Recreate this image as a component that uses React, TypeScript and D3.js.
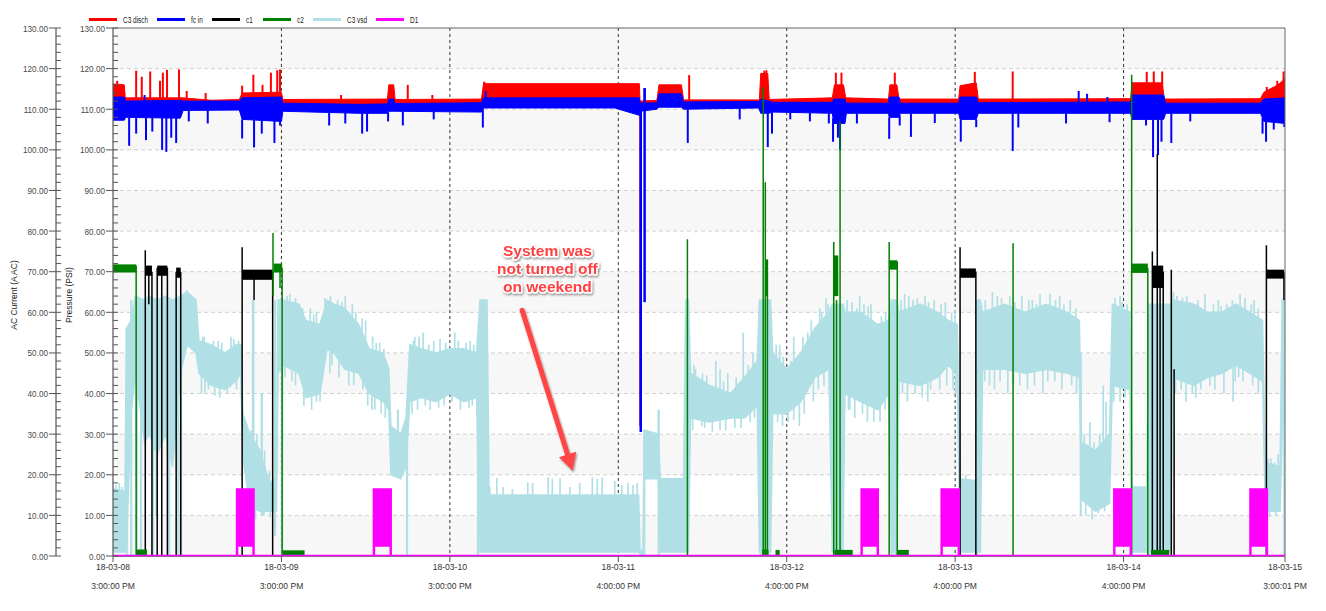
import React from 'react';
import * as d3 from 'd3';

// ---------------- data ----------------
const xTickHours = [0, 24, 48, 72, 96, 120, 144, 167];
const xTickDates = ['18-03-08', '18-03-09', '18-03-10', '18-03-11', '18-03-12', '18-03-13', '18-03-14', '18-03-15'];
const xTickTimes = ['3:00:00 PM', '3:00:00 PM', '3:00:00 PM', '4:00:00 PM', '4:00:00 PM', '4:00:00 PM', '4:00:00 PM', '3:00:01 PM'];
const yMajorTicks = [0, 10, 20, 30, 40, 50, 60, 70, 80, 90, 100, 110, 120, 130];
const legendNames = ['C3 disch', 'fc in', 'c1', 'c2', 'C3 vsd', 'D1'];
const legendColors = ['#ff0000', '#0000ff', '#000000', '#008000', '#b0e0e6', '#ff00ff'];

// C3 disch (red): [hour, low, high]
const dischBand = [
  [0, 111, 116.2], [1.6, 111, 116], [1.75, 111, 112.8], [10, 111, 112.8], [14, 111, 112.2], [18, 111, 112.4],
  [18.4, 111, 114], [24, 111, 114.2], [24.2, 111, 112.4], [39.1, 111, 112.5], [39.3, 111, 116], [40, 111, 116],
  [40.2, 111, 112.4], [52.5, 111, 112.5], [52.8, 111, 116.3], [75, 111, 116.3], [75.1, 111, 112], [77.5, 111, 112.2],
  [77.8, 111, 116], [81, 111, 116], [81.3, 111, 112.3], [92.1, 111, 112.3], [92.3, 111, 118.8], [93.3, 111, 118.8],
  [93.5, 111, 112.4], [102.5, 111, 112.8], [102.8, 111, 116], [104.1, 111, 116], [104.4, 111, 112.8], [110.5, 111, 112.5],
  [110.7, 111, 116], [111.7, 111, 116], [112, 111, 112.5], [120.5, 111, 112.5], [120.7, 111, 115.8], [123, 111, 116.5],
  [123.3, 111, 112.5], [145, 111, 112.6], [145.2, 111, 116.5], [149.5, 111, 116.5], [149.8, 111, 112.5],
  [163.5, 111, 112.6], [164, 111, 114.2], [166, 111, 116], [167, 111, 117.5],
];
const dischSpikes = [
  [0.6, 117], [3.3, 119.5], [4.1, 118], [5.3, 119.3], [6.7, 117], [7.1, 119], [7.7, 119.7], [9.4, 119.8], [10.5, 114.5],
  [13.2, 114], [18.4, 115.8], [20, 118.5], [21.3, 116], [22.5, 119], [23.4, 119.6], [23.8, 119.8], [32.5, 113.5],
  [42, 116], [45.5, 113.5], [52.9, 116.8], [82.1, 118.4], [92.8, 119.5], [93.1, 119.6], [103, 119], [103.8, 119],
  [111.4, 119], [122.8, 119.2], [128.2, 119.3], [147.3, 119.2], [148.3, 119.3], [149.5, 119.3], [164.4, 115.5],
  [165.9, 117], [166.8, 119.3],
];
const dischDrops = [[75.1, 112, 32]];

// fc in (blue): [hour, low, high]
const fcBand = [
  [0, 107.3, 113], [1.6, 107.3, 113], [1.8, 108, 112], [9.6, 107.8, 112.2], [10, 109.7, 112], [18, 109.8, 112],
  [18.4, 107.5, 112.8], [24, 107, 113], [24.2, 109.5, 111.5], [35, 109, 111.2], [39.1, 109, 111.3], [39.3, 109.5, 112.5],
  [40, 109.5, 112.5], [40.2, 109.5, 111.4], [52.5, 109.3, 111.6], [52.8, 110.3, 112.8], [71.5, 110.3, 112.8],
  [75, 108.5, 112.8], [75.1, 109.5, 111.5], [77.5, 110, 111.6], [77.8, 110.5, 113.8], [81, 110.5, 113.8],
  [81.3, 110, 111.8], [92, 110.3, 111.9], [92.3, 109, 112.5], [93.5, 109, 112], [94, 109.3, 111.7], [102.5, 109, 111.7],
  [102.7, 106.5, 112.5], [104.3, 106.5, 112.5], [104.5, 109, 111.5], [110.5, 109, 111.5], [110.6, 108, 113],
  [112, 108, 113], [112.2, 109, 111.5], [120.5, 109, 111.5], [120.7, 107.5, 113], [123, 107.5, 113], [123.3, 109, 111.6],
  [145, 109, 111.8], [145.2, 107.5, 113.5], [149.7, 107.5, 113.5], [150, 109, 111.5], [163.5, 109, 111.5],
  [164, 107, 112.5], [167, 106.5, 112.8],
];
const fcDips = [
  [2.3, 101], [3.3, 104], [4.7, 102.4], [5.6, 104.5], [7.0, 100], [7.6, 99.5], [8.3, 103], [9.0, 101.7], [10.8, 107],
  [13.5, 106.5], [18.4, 102.8], [20.1, 100.6], [21.2, 104], [23.0, 101.7], [23.8, 106], [30.8, 106], [33.1, 106.5],
  [35.5, 104], [36.2, 104.5], [39.2, 107], [41.3, 106], [45.7, 107.5], [52.7, 105.5], [81.9, 101.7], [89.3, 107.5],
  [93.3, 100.7], [93.9, 104], [96.5, 107.5], [99.3, 107], [102, 106.5], [102.6, 102], [103.3, 103], [103.6, 100],
  [106, 106.5], [110.6, 102.7], [112.1, 106], [113.7, 103.2], [117.1, 106.6], [120.8, 102], [123, 105.6], [128.2, 99.7],
  [129, 105.5], [135.8, 106.5], [142, 106.8], [147.2, 106], [148.2, 98.2], [148.9, 98.7], [149.4, 102], [150.8, 101.7],
  [153.5, 107], [163.8, 104], [164.3, 102], [165.4, 105], [166.9, 105.6],
];
const fcPeaks = [[4.5, 113.5], [53.1, 114.5], [75.75, 115.2], [137.6, 114.5], [138.8, 113.8], [141.7, 113]];
const fcDrops = [[75.2, 111.5, 30.5], [75.75, 115.2, 62.5]];

// c1 (black): plateaus [start, end, low, high], lines [hour, from, to]
const c1Plateaus = [
  [4.6, 5.55, 69, 71.5], [6.3, 7.75, 69, 71.5], [9.0, 9.65, 68.5, 71], [18.4, 22.75, 68, 70.5],
  [120.7, 122.95, 68.5, 70.8], [148.1, 149.65, 66, 71.5], [164.35, 166.85, 68.3, 70.5],
];
const c1Lines = [
  [4.6, 0, 75.3], [5.1, 62, 71], [5.55, 0, 70], [6.3, 0, 71], [6.95, 0, 71], [7.75, 0, 71], [9.0, 0, 70], [9.65, 0, 70],
  [18.4, 0, 76], [20.1, 63, 70], [22.75, 0, 70], [120.7, 0, 76], [122.95, 0, 70], [148.1, 0, 75], [148.8, 0, 99],
  [149.2, 0, 71], [149.65, 0, 70], [150.8, 0, 70.5], [151.2, 0, 46], [164.35, 0, 76.5], [166.85, 63, 70], [167, 63, 69],
];

// c2 (green)
const c2Plateaus = [
  [0, 3.3, 69.8, 71.8], [22.9, 24.1, 69.8, 72], [92.95, 93.25, 64, 73], [102.7, 103.35, 64, 74],
  [110.6, 111.75, 70.5, 72.8], [145.2, 147.45, 69.7, 72],
  [3.3, 4.85, 0, 1.6], [24.2, 27.3, 0, 1.4], [92.5, 93.4, 0, 1.6], [94.4, 95.0, 0, 1.5], [102.8, 105.4, 0, 1.5],
  [111.7, 113.4, 0, 1.5], [147.9, 150.5, 0, 1.5],
];
const c2Lines = [
  [3.3, 0, 71.5], [22.8, 64, 79.5], [23.8, 66, 71], [24.1, 0, 71], [81.85, 0, 78], [92.65, 0, 115.5], [92.95, 0, 92],
  [93.25, 0, 73], [102.7, 0, 77.3], [103.1, 0, 63], [103.6, 0, 107], [110.6, 0, 77.3], [111.75, 0, 72.5],
  [128.25, 0, 77], [145.15, 0, 118.5], [147.45, 0, 71],
];

// C3 vsd (light blue): [hour, low, high]
const vsdBand = [
  [0, 1, 16.5], [1.7, 1, 16], [1.92, 1, 56], [2.56, 35, 58], [3.2, 45, 64], [4.49, 28, 63], [5.2, 30, 64], [6.27, 25, 63],
  [7.48, 30, 64], [8.48, 22, 63], [9.62, 45, 64], [10.54, 52, 65], [11.83, 50, 63], [12.25, 45, 53], [13.96, 42, 52],
  [15.96, 41, 50], [17.53, 43, 52], [18.2, 45, 52], [18.52, 24, 35], [19.52, 12, 30], [20.95, 11, 26], [21.94, 11, 20],
  [22.6, 11, 18], [23.3, 11, 20], [23.5, 45, 63], [24.22, 47, 63], [26.5, 45, 62], [27.5, 39, 58], [29.5, 40, 57],
  [30.5, 51, 63], [31.5, 50, 62], [33, 46, 61], [35, 45, 57], [36.5, 40, 51], [38.5, 38, 50], [39.3, 36, 46],
  [39.6, 20, 32], [41, 19, 30], [41.75, 22, 34], [42.3, 38, 52], [44, 39, 51], [46, 38, 50], [48, 40, 51], [50, 38, 51],
  [51.8, 39, 50], [52.3, 1, 63], [53.3, 1, 63], [53.6, 1, 15], [74.9, 1, 15], [75.1, 0.5, 1.5], [75.5, 0.5, 1.5],
  [75.7, 19, 31], [77.7, 19, 30], [78, 1, 19], [81.3, 1, 19], [81.6, 1, 63], [82, 1, 63], [82.3, 34, 45], [85, 33, 42],
  [88, 34, 40], [90, 34, 44], [91.8, 37, 48], [92.1, 1, 63], [93.7, 1, 63], [94, 35, 50], [96, 35, 46], [98, 38, 50],
  [100, 44, 56], [102, 46, 60], [102.5, 1, 62], [104, 1, 62], [104.3, 40, 60], [106.5, 38, 60], [109, 36, 57],
  [110.5, 40, 58], [110.9, 1, 63], [111.7, 1, 63], [112, 43, 60], [115, 42, 62], [117.5, 44, 60], [119, 47, 58],
  [120.3, 45, 57], [120.7, 1, 19], [123, 1, 18.5], [123.2, 1, 63], [123.6, 1, 63], [123.9, 46, 60], [127, 46, 62],
  [130, 45, 60], [133, 46, 62], [136, 45, 60], [137.7, 44, 58], [138, 14, 28], [140, 11, 26], [142, 13, 30],
  [142.4, 42, 62], [144.9, 41, 60], [145.2, 1, 17], [147.3, 1, 17], [147.6, 1, 62], [150.7, 1, 62], [151, 44, 63],
  [154, 42, 62], [156, 44, 60], [158, 45, 60], [160, 47, 62], [162, 45, 60], [163.8, 43, 58], [164.2, 11, 23],
  [166.3, 11, 22], [166.6, 30, 63], [167, 40, 63],
];
const vsdPeaks = [
  [0.4, 17.5], [0.9, 18], [1.3, 17], [10.5, 65.5], [12.8, 54], [13, 54], [14.3, 53], [15, 53], [15.5, 52.5], [16.8, 54],
  [17.2, 53.5], [17.9, 53], [19, 33], [19.7, 31], [19.9, 63], [20.5, 30], [21.2, 40], [21.6, 26], [22.3, 21],
  [24.8, 64], [25.2, 64.5], [26, 63.5], [27, 61], [28.1, 61], [28.6, 59.5], [29, 60], [29.8, 58], [30.2, 63.5], [31, 64],
  [32, 63], [32.6, 62.5], [33.1, 64], [34.1, 62], [34.6, 60], [35.5, 58.5], [36, 58], [37, 54], [37.5, 52.5], [38, 52.5],
  [38.6, 51], [40.6, 36], [42.8, 53], [43, 54], [43.6, 54], [44.2, 55], [45, 52], [45.7, 53], [46.6, 53.5], [47.4, 52.5],
  [48.7, 55], [49.2, 53], [50.3, 52.5], [50.9, 53], [51.4, 52],
  [53.7, 17], [54.7, 19.2], [55.6, 17], [56.9, 16.5], [59.1, 18.2], [59.8, 18], [62, 19.4], [62.6, 19], [63.7, 19.2],
  [65.1, 17], [66.5, 18], [68.3, 19.4], [69, 19], [69.7, 19.4], [71.5, 18.5], [72.5, 17.5], [73.4, 18], [74.1, 17.5],
  [74.7, 18], [77.75, 36], [82.8, 47], [83, 46], [84, 45], [84.6, 44.5], [85.9, 48], [86.5, 46], [87, 43], [87.6, 45],
  [88.8, 44], [89.8, 55], [90.5, 47], [91.2, 50], [94.5, 52], [95, 52], [95.5, 49], [96.6, 48], [97, 54], [98.3, 54],
  [99, 55], [99.5, 58], [100.7, 61], [101, 60], [101.6, 63.5], [101.9, 62], [104.6, 63], [105.3, 62.5], [106, 61],
  [106.4, 64], [107, 62], [107.6, 61.5], [108, 62], [109.5, 59], [110.1, 60], [112.3, 63], [112.8, 64.5], [113.4, 64],
  [114, 63], [114.6, 63.5], [115.7, 64], [116.2, 62.5], [117, 63], [118, 62], [118.6, 62.5], [119.5, 60], [120, 60.5],
  [121.5, 20], [124.3, 63], [125.3, 65], [126, 64], [126.6, 63.5], [127.8, 64], [128.5, 62.5], [129.5, 64], [130.5, 63],
  [131, 63], [131.6, 62], [132.1, 64.5], [133.5, 64.5], [134.3, 63], [134.9, 64], [135.5, 62], [136.4, 63], [137.2, 61],
  [138.4, 30], [139.2, 33], [139.8, 28], [140.6, 30], [141.1, 42], [141.5, 38], [142.8, 63.5], [143.5, 64],
  [143.8, 62.5], [144.5, 62], [151.1, 65], [151.6, 64], [152.4, 63.5], [153, 64], [153.5, 62.5], [154.6, 63],
  [155.6, 64.5], [156.8, 62], [157.5, 63], [157.9, 61.5], [158.7, 62], [159.5, 63], [160.6, 64.5], [161.3, 63.5],
  [162.2, 62], [162.6, 63], [163.2, 61], [164.6, 24], [165, 24], [165.5, 23], [166, 25],
];
const vsdDips = [
  [12.6, 40], [13.1, 40], [13.6, 41], [14.5, 39.5], [15.2, 39], [16.3, 40], [16.7, 41.5], [17.6, 41], [19.2, 10],
  [20.3, 9], [21.5, 10], [22.4, 9.5], [24.5, 44], [25.5, 43], [26, 42], [27.2, 37], [28.3, 36], [29, 38], [29.5, 38],
  [30.9, 45], [31.2, 47], [32.2, 44], [33.6, 42], [34.3, 42], [35.6, 41], [36.3, 37], [36.9, 36], [37.3, 36],
  [38.2, 35], [38.8, 34], [42.6, 35], [43.4, 36], [44.5, 37], [45.2, 36], [46.4, 36.5], [47.2, 37], [48.3, 38],
  [49.5, 36], [50.7, 36.5], [51.2, 37], [82.6, 31], [83.9, 32], [84.3, 31.5], [85.4, 30.5], [86.5, 31], [87.3, 31],
  [88.6, 31.5], [89.5, 31.5], [90.8, 33], [91.4, 34], [94.7, 33], [95.4, 32], [96.2, 33], [97, 33.5], [97.8, 32],
  [98.5, 35], [99.8, 38], [100.5, 41], [101.3, 42], [104.8, 36], [105, 36], [105.7, 34], [106.8, 35], [107.5, 33],
  [108.4, 33], [109.3, 33], [110, 36], [112.5, 40], [113.2, 38], [114.3, 40], [115.3, 39], [116.1, 38], [116.5, 41],
  [117.8, 41], [118.8, 42], [119.7, 41], [120.1, 40], [124.2, 43], [124.9, 42], [125.6, 41], [126.4, 43], [127.5, 40],
  [128.3, 42], [129.2, 42], [130.3, 41], [131.3, 42], [132.5, 40], [133.2, 43], [134.2, 43], [135.2, 41], [136.6, 42],
  [137.3, 40], [138.6, 10], [139.5, 9], [140.4, 10.5], [141.3, 11], [142.6, 38], [143.5, 38], [144.2, 39], [151.4, 40],
  [152.2, 41], [152.9, 38], [153.8, 40], [154.3, 39], [155, 41], [156.3, 42], [157, 41], [158.3, 40], [159.6, 38],
  [159.9, 43], [160.4, 44], [161, 43], [162.4, 42], [163.2, 40], [164.8, 9.5], [165.7, 10],
];
const vsdLines = [
  [1.95, 0, 56], [2.6, 0, 63], [3.4, 0, 63], [4.0, 0, 40], [5.7, 0, 63], [6.2, 10, 60], [8.0, 0, 62], [9.3, 0, 63],
  [9.7, 0, 60], [20, 10, 63], [21.2, 10, 40], [23.1, 5, 63], [24.1, 0, 63], [40.6, 20, 36], [41.9, 0, 30], [52.0, 0, 50],
  [75.7, 0, 31], [77.75, 0, 36], [92.3, 0, 63], [93.5, 0, 63], [102.8, 0, 60], [103.9, 0, 62], [111, 0, 63],
  [111.5, 0, 60], [123.1, 0, 63], [137.9, 10, 50], [147.6, 0, 62], [149, 0, 60], [150.2, 0, 62], [164.4, 0, 23],
  [166.9, 0, 63],
];

// D1 (magenta): on periods [start, end]
const d1On = [[17.5, 20.2], [37.0, 39.75], [106.5, 109.15], [117.9, 120.7], [142.5, 145.2], [161.9, 164.6]];
const d1High = 16.7;
const d1Low = 2.3;

// ---------------- chart ----------------
const FONT = 'Liberation Sans, Arial, sans-serif';
const VSD = '#b0e0e6';

function interp(arr: number[][], h: number, idx: number) {
  for (let i = 0; i < arr.length - 1; i++) {
    const a = arr[i], b = arr[i + 1];
    if (h >= a[0] && h <= b[0]) {
      const t = b[0] === a[0] ? 0 : (h - a[0]) / (b[0] - a[0]);
      return a[idx] + t * (b[idx] - a[idx]);
    }
  }
  return arr[arr.length - 1][idx];
}

const T = ({ x, y, sx = 1, anchor = 'start', size = 9, fill = '#444', weight = 'normal', rot = 0, children }: any) => (
  <text
    transform={`translate(${x},${y}) rotate(${rot}) scale(${sx},1)`}
    textAnchor={anchor}
    fontSize={size}
    fontWeight={weight}
    fill={fill}
    fontFamily={FONT}
  >
    {children}
  </text>
);

export default function App() {
  const left = 113, right = 1285, top = 28, bottom = 556;
  const x = d3.scaleLinear().domain([0, 167]).range([left, right]);
  const y = d3.scaleLinear().domain([0, 130]).range([bottom, top]);
  const band = d3.area<number[]>().x((d) => x(d[0])).y0((d) => y(d[1])).y1((d) => y(d[2]));
  const minorTicks = d3.range(0, 131, 2).filter((v) => v % 10 !== 0);

  const vline = (h: number, a: number, b: number, color: string, w: number, key: string) => (
    <line key={key} x1={x(h)} x2={x(h)} y1={y(a)} y2={y(b)} stroke={color} strokeWidth={w} />
  );

  const axis = (ax: number, labelX: number, key: string) => (
    <g key={key}>
      <line x1={ax} x2={ax} y1={top} y2={bottom} stroke="#555" strokeWidth={1.2} />
      {yMajorTicks.map((v) => (
        <g key={v}>
          <line x1={ax - 7} x2={ax + 5} y1={y(v)} y2={y(v)} stroke="#555" />
          <T x={labelX} y={y(v) + 3.5} anchor="end" size={9.5} sx={0.86} fill="#4a4a4a">{v.toFixed(2)}</T>
        </g>
      ))}
      {minorTicks.map((v) => (
        <line key={'m' + v} x1={ax} x2={ax + 5} y1={y(v)} y2={y(v)} stroke="#555" />
      ))}
    </g>
  );

  const d1Path = (s: number, e: number) => {
    const w = 0.35;
    return `M${x(s)},${y(0)}L${x(s)},${y(d1High)}L${x(e)},${y(d1High)}L${x(e)},${y(0)}L${x(e - w)},${y(0)}L${x(e - w)},${y(d1Low)}L${x(s + w)},${y(d1Low)}L${x(s + w)},${y(0)}Z`;
  };

  // annotation anchor positions (in data units)
  const noteX = x(61.9);
  const arrowFrom = [x(58.3), y(60.5)];
  const arrowTo = [x(65.5), y(21)];
  const dx = arrowTo[0] - arrowFrom[0], dy = arrowTo[1] - arrowFrom[1];
  const len = Math.hypot(dx, dy);
  const ux = dx / len, uy = dy / len;
  const headL = 17, headW = 9;
  const bx = arrowTo[0] - ux * headL, by = arrowTo[1] - uy * headL;

  return (
    <svg width={1326} height={611} style={{ position: 'absolute', left: 0, top: 0, background: '#fff' }}>
      <defs>
        <filter id="shadow" x="-20%" y="-20%" width="140%" height="140%">
          <feDropShadow dx="1" dy="1.5" stdDeviation="1.2" floodColor="#000" floodOpacity="0.45" />
        </filter>
        <clipPath id="plot">
          <rect x={left} y={top} width={right - left} height={bottom - top} />
        </clipPath>
      </defs>

      {/* background stripes */}
      {yMajorTicks.slice(0, -1).filter((v) => v % 20 === 0).map((v) => (
        <rect key={v} x={left} y={y(v + 10)} width={right - left} height={y(v) - y(v + 10)} fill="#f7f7f7" />
      ))}
      {/* horizontal grid */}
      {yMajorTicks.slice(1, -1).map((v) => (
        <line key={v} x1={left} x2={right} y1={y(v)} y2={y(v)} stroke="#cfcfcf" strokeDasharray="4,3" />
      ))}
      {/* vertical grid */}
      {xTickHours.slice(1, -1).map((h) => (
        <line key={h} x1={x(h)} x2={x(h)} y1={top} y2={bottom} stroke="#333" strokeDasharray="3,3" />
      ))}

      <g clipPath="url(#plot)">
        {/* C3 vsd */}
        <path d={band(vsdBand as any) || ''} fill={VSD} stroke={VSD} strokeWidth={1.5} />
        {vsdLines.map((d, i) => vline(d[0], d[1], d[2], VSD, 2.2, 'vl' + i))}
        {vsdPeaks.map((d, i) => vline(d[0], interp(vsdBand, d[0], 2), d[1], VSD, 1.7, 'vp' + i))}
        {vsdDips.map((d, i) => vline(d[0], interp(vsdBand, d[0], 1), d[1], VSD, 1.7, 'vd' + i))}

        {/* C3 disch */}
        <path d={band(dischBand as any) || ''} fill="#ff0000" stroke="#ff0000" strokeWidth={1} />
        {dischSpikes.map((d, i) => vline(d[0], 111, d[1], '#ff0000', 2, 'rs' + i))}
        {dischDrops.map((d, i) => vline(d[0], d[1], d[2], '#ff0000', 1.5, 'rd' + i))}

        {/* fc in */}
        <path d={band(fcBand as any) || ''} fill="#0000ff" stroke="#0000ff" strokeWidth={1} />
        {fcDips.map((d, i) => vline(d[0], interp(fcBand, d[0], 1), d[1], '#0000ff', 2, 'bd' + i))}
        {fcPeaks.map((d, i) => vline(d[0], interp(fcBand, d[0], 2), d[1], '#0000ff', 2, 'bp' + i))}
        {fcDrops.map((d, i) => vline(d[0], d[1], d[2], '#0000ff', 2.5, 'bx' + i))}

        {/* c1 */}
        {c1Plateaus.map((d, i) => (
          <rect key={'c1p' + i} x={x(d[0])} y={y(d[3])} width={x(d[1]) - x(d[0])} height={y(d[2]) - y(d[3])} fill="#000" />
        ))}
        {c1Lines.map((d, i) => vline(d[0], d[1], d[2], '#000', 1.5, 'c1l' + i))}

        {/* c2 */}
        {c2Plateaus.map((d, i) => (
          <rect key={'c2p' + i} x={x(d[0])} y={y(d[3])} width={x(d[1]) - x(d[0])} height={y(d[2]) - y(d[3])} fill="#008000" />
        ))}
        {c2Lines.map((d, i) => vline(d[0], d[1], d[2], '#008000', 1.5, 'c2l' + i))}

        {/* D1 */}
        {d1On.map((d, i) => (
          <path key={'d1' + i} d={d1Path(d[0], d[1])} fill="#ff00ff" />
        ))}
      </g>

      {/* frame */}
      <line x1={left} x2={right} y1={top} y2={top} stroke="#666" />
      <line x1={right} x2={right} y1={top} y2={bottom} stroke="#666" />
      <line x1={left} x2={right} y1={bottom} y2={bottom} stroke="#555" strokeWidth={1.5} />
      <line x1={left} x2={right} y1={bottom - 0.5} y2={bottom - 0.5} stroke="#ff00ff" strokeWidth={1.5} />

      {axis(56, 48, 'a1')}
      {axis(113, 105, 'a2')}

      {/* x ticks */}
      {xTickHours.map((h, i) => (
        <g key={h}>
          <line x1={x(h)} x2={x(h)} y1={bottom} y2={bottom + 6} stroke="#555" />
          <T x={x(h)} y={569.5} anchor="middle" size={9.5} sx={0.9} fill="#333">{xTickDates[i]}</T>
          <T x={x(h)} y={588.5} anchor="middle" size={9.5} sx={0.9} fill="#333">{xTickTimes[i]}</T>
        </g>
      ))}

      {/* axis titles */}
      <T x={17} y={295} rot={-90} anchor="middle" size={8.5} fill="#222">AC Current (A AC)</T>
      <T x={72} y={295} rot={-90} anchor="middle" size={8.5} fill="#222">Pressure (PSI)</T>

      {/* legend */}
      {legendNames.map((n, i) => {
        const starts = [89, 157, 212, 263, 313, 376];
        const sx0 = starts[i];
        return (
          <g key={n}>
            <line x1={sx0} x2={sx0 + 28} y1={19.5} y2={19.5} stroke={legendColors[i]} strokeWidth={3} />
            <T x={sx0 + 34} y={23} size={9} sx={0.72} fill="#222">{n}</T>
          </g>
        );
      })}

      {/* annotation */}
      <g filter="url(#shadow)">
        <line x1={arrowFrom[0]} y1={arrowFrom[1]} x2={bx} y2={by} stroke="#ff4444" strokeWidth={5} strokeLinecap="round" />
        <polygon
          points={`${arrowTo[0]},${arrowTo[1]} ${bx - uy * headW},${by + ux * headW} ${bx + uy * headW},${by - ux * headW}`}
          fill="#ff4444"
        />
      </g>
      <g filter="url(#shadow)">
        {['System was', 'not turned off', 'on weekend'].map((s, i) => (
          <text
            key={s}
            x={noteX}
            y={y([73.9, 69.4, 64.9][i])}
            textAnchor="middle"
            fontSize={15.5}
            fontWeight="bold"
            fontFamily={FONT}
            fill="#ff4040"
            stroke="#fff"
            strokeWidth={3}
            paintOrder="stroke"
            strokeLinejoin="round"
          >
            {s}
          </text>
        ))}
      </g>
    </svg>
  );
}
